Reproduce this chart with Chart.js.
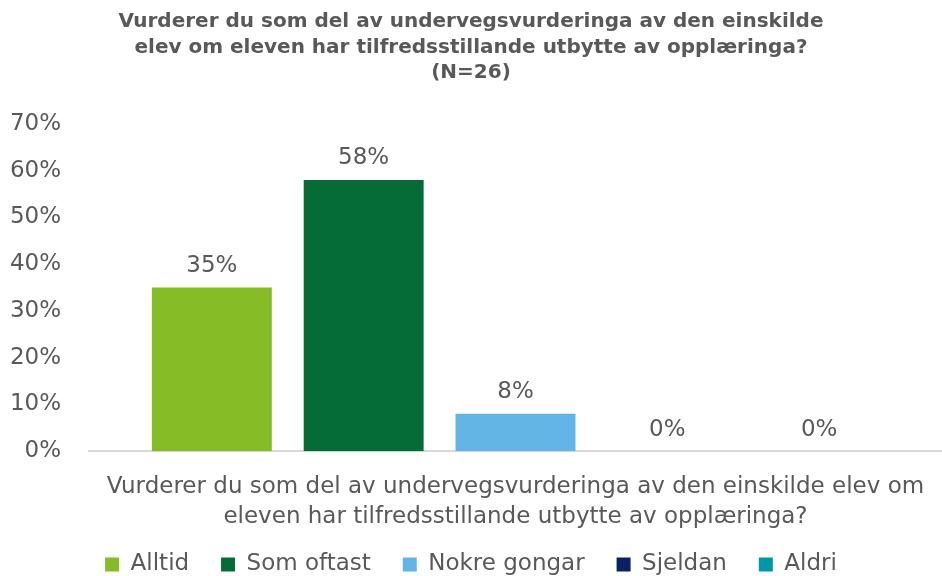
<!DOCTYPE html>
<html>
<head>
<meta charset="utf-8">
<script src="https://cdn.jsdelivr.net/npm/chart.js@4"></script>
<style>
  html, body { margin: 0; padding: 0; background: #fff; overflow: hidden; }
  #wrap { width: 942px; height: 576px; overflow: hidden; }
</style>
</head>
<body>
<div id="wrap"><canvas id="chart" width="942" height="586"></canvas></div>
<script>
const titleLines = [
    "Vurderer du som del av undervegsvurderinga av den einskilde",
    "elev om eleven har tilfredsstillande utbytte av opplæringa?",
    "(N=26)"
];
const axisTitle = [
    "Vurderer du som del av undervegsvurderinga av den einskilde elev om",
    "eleven har tilfredsstillande utbytte av opplæringa?"
];
const categories = [""];
const seriesNames = ["Alltid", "Som oftast", "Nokre gongar", "Sjeldan", "Aldri"];
const seriesValues = [0.35, 0.58, 0.08, 0, 0];
const seriesColors = ["#86BC25", "#056C38", "#62B5E5", "#0A2263", "#0097A9"];

const grey = "#595959";
const fontFamily = "'DejaVu Sans', Verdana, sans-serif";

/* draw value labels above each bar */
const valueLabels = {
    id: "valueLabels",
    afterDatasetsDraw(chart) {
        const ctx = chart.ctx;
        ctx.save();
        ctx.font = "23px " + fontFamily;
        ctx.fillStyle = grey;
        ctx.textAlign = "center";
        ctx.textBaseline = "bottom";
        chart.data.datasets.forEach((ds, i) => {
            chart.getDatasetMeta(i).data.forEach((bar, j) => {
                const v = ds.data[j];
                ctx.fillText(Math.round(v * 100) + "%", bar.x, bar.y - 10);
            });
        });
        ctx.restore();
    }
};

new Chart(document.getElementById("chart"), {
    type: "bar",
    data: {
        labels: categories,
        datasets: seriesNames.map((name, i) => ({
            label: name,
            data: [seriesValues[i]],
            backgroundColor: seriesColors[i],
            barPercentage: 0.79,
            categoryPercentage: 0.89
        }))
    },
    options: {
        responsive: false,
        animation: false,
        layout: { padding: { left: 0, right: 0, top: 0, bottom: 0 } },
        plugins: {
            title: {
                display: true,
                text: titleLines,
                color: grey,
                font: { family: fontFamily, size: 20, weight: "bold", lineHeight: 1.28 },
                padding: { top: 9, bottom: 38 }
            },
            legend: {
                position: "bottom",
                labels: {
                    color: grey,
                    font: { family: fontFamily, size: 23 },
                    boxWidth: 14,
                    boxHeight: 14,
                    padding: 10,
                    generateLabels(chart) {
                        const items = Chart.defaults.plugins.legend.labels.generateLabels(chart);
                        items.forEach((it, i) => {
                            if (i < items.length - 1) it.text += "   ";
                        });
                        return items;
                    }
                }
            },
            tooltip: { enabled: false }
        },
        scales: {
            x: {
                grid: { display: false },
                border: { color: "#D9D9D9", width: 2 },
                ticks: { display: false },
                title: {
                    display: true,
                    text: axisTitle,
                    color: grey,
                    font: { family: fontFamily, size: 23, lineHeight: 1.3 },
                    padding: { top: 13, bottom: 11 }
                }
            },
            y: {
                min: 0,
                max: 0.7,
                grid: { display: false },
                border: { display: false },
                afterFit(scale) { scale.width = 89; },
                ticks: {
                    stepSize: 0.1,
                    color: grey,
                    padding: 20,
                    font: { family: fontFamily, size: 23 },
                    callback: v => Math.round(v * 100) + "%"
                }
            }
        }
    },
    plugins: [valueLabels]
});
</script>
</body>
</html>
